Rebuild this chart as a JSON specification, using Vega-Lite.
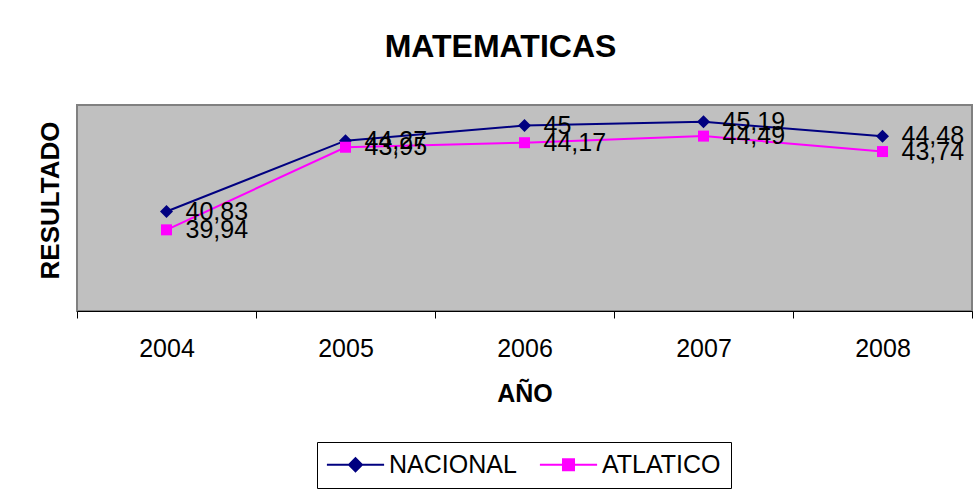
{
  "$schema": "https://vega.github.io/schema/vega-lite/v6.json",
  "autosize": {"type": "none"},
  "padding": {"left": 77, "top": 105, "right": 6, "bottom": 180},
  "width": 895,
  "height": 206,
  "background": "white",
  "title": {"text": "MATEMATICAS", "font": "Liberation Sans", "fontSize": 32, "fontWeight": "bold", "color": "black", "frame": "group", "anchor": "middle", "dx": -24, "offset": 41},
  "data": {"values": [
    {"year": "2004", "serie": "NACIONAL", "value": 40.83},
    {"year": "2005", "serie": "NACIONAL", "value": 44.27},
    {"year": "2006", "serie": "NACIONAL", "value": 45},
    {"year": "2007", "serie": "NACIONAL", "value": 45.19},
    {"year": "2008", "serie": "NACIONAL", "value": 44.48},
    {"year": "2004", "serie": "ATLATICO", "value": 39.94},
    {"year": "2005", "serie": "ATLATICO", "value": 43.95},
    {"year": "2006", "serie": "ATLATICO", "value": 44.17},
    {"year": "2007", "serie": "ATLATICO", "value": 44.49},
    {"year": "2008", "serie": "ATLATICO", "value": 43.74}
  ]},
  "encoding": {
    "x": {"field": "year", "type": "ordinal", "bandPosition": 0.5,
      "scale": {"type": "band", "paddingInner": 0, "paddingOuter": 0},
      "axis": {"title": "AÑO", "labelAngle": 0, "tickBand": "extent", "tickSize": 7, "tickColor": "black", "domainColor": "black", "domainWidth": 1, "labelPadding": 18, "titlePadding": 20, "labelFontSize": 25, "titleFontSize": 25, "labelFont": "Liberation Sans", "titleFont": "Liberation Sans", "labelColor": "black", "titleColor": "black", "titleFontWeight": "bold", "grid": false}},
    "y": {"field": "value", "type": "quantitative",
      "scale": {"domain": [36, 46], "nice": false, "zero": false},
      "axis": {"title": "RESULTADO", "labels": false, "ticks": false, "domain": false, "grid": false, "titleFontSize": 26, "titleFont": "Liberation Sans", "titleFontWeight": "bold", "titleColor": "black", "titlePadding": 14, "titleY": 95}}
  },
  "layer": [
    {
      "mark": {"type": "line", "strokeWidth": 2},
      "encoding": {
        "color": {"field": "serie", "type": "nominal",
          "scale": {"domain": ["NACIONAL", "ATLATICO"], "range": ["#000080", "#FF00FF"]},
          "legend": {
            "title": null, "orient": "none", "legendX": 240, "legendY": 337, "direction": "horizontal",
            "strokeColor": "black", "padding": 10, "fillColor": "white",
            "labelFont": "Liberation Sans", "labelFontSize": 25, "labelColor": "black",
            "symbolSize": 169, "symbolStrokeWidth": 2, "symbolOffset": 16, "labelOffset": 21, "columnPadding": 18,
            "encode": {"symbols": {"update": {
              "shape": {"signal": "datum.value === 'NACIONAL' ? 'M-4.4,0H4.4M0,-1L1,0L0,1L-1,0Z' : 'M-4.4,0H4.4M-0.85,-0.85H0.85V0.85H-0.85Z'"},
              "fill": {"signal": "datum.value === 'NACIONAL' ? '#000080' : '#FF00FF'"},
              "stroke": {"signal": "datum.value === 'NACIONAL' ? '#000080' : '#FF00FF'"},
              "strokeWidth": {"value": 2},
              "opacity": {"value": 1},
              "fillOpacity": {"value": 1}
            }}}
          }}
      }
    },
    {
      "transform": [{"filter": "datum.serie === 'NACIONAL'"}],
      "mark": {"type": "point", "filled": true, "opacity": 1, "shape": "diamond", "size": 169},
      "encoding": {
        "color": {"field": "serie", "type": "nominal"}
      }
    },
    {
      "transform": [{"filter": "datum.serie === 'ATLATICO'"}],
      "mark": {"type": "point", "filled": true, "opacity": 1, "shape": "square", "size": 121},
      "encoding": {
        "color": {"field": "serie", "type": "nominal"}
      }
    },
    {
      "mark": {"type": "text", "align": "left", "baseline": "middle", "dx": 19, "font": "Liberation Sans", "fontSize": 25, "color": "black"},
      "encoding": {
        "text": {"field": "value", "type": "quantitative", "format": ".2~f"}
      }
    }
  ],
  "config": {
    "locale": {"number": {"decimal": ",", "thousands": ".", "grouping": [3], "currency": ["", ""]}},
    "view": {"fill": "#C0C0C0", "stroke": "#808080", "strokeWidth": 2}
  }
}
